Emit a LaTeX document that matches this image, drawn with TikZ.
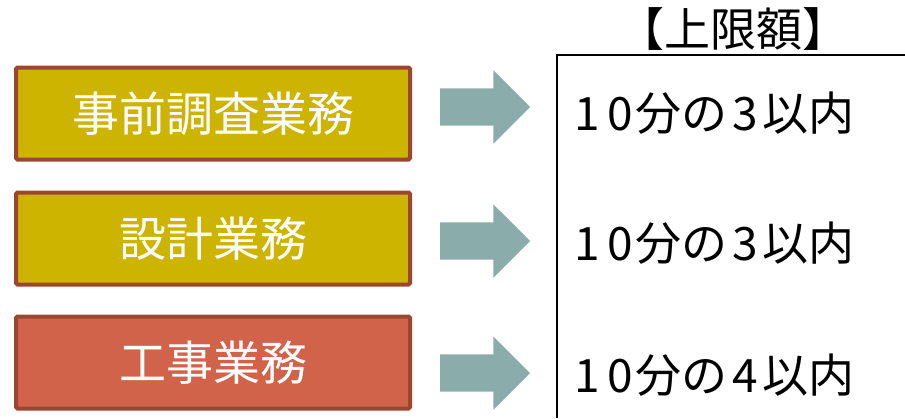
\documentclass[tikz,border=0pt]{standalone}
\usepackage{fontspec}
\setmainfont{Noto Sans CJK JP}
\usetikzlibrary{shapes.arrows}
\definecolor{boxline}{HTML}{9C4632}
\definecolor{olive}{HTML}{CCB400}
\definecolor{brick}{HTML}{D1634A}
\definecolor{arrowc}{HTML}{8AACAA}
\tikzset{
  taskbox/.style={draw=boxline, line width=4pt, rounded corners=1.5pt, minimum width=394pt, minimum height=92pt, inner sep=0pt, text=white, font=\fontsize{47}{50}\selectfont},
  blockarrow/.style={single arrow, fill=arrowc, draw=none, minimum height=90pt, minimum width=73pt, single arrow head extend=18pt, single arrow tip angle=90, inner sep=0pt, outer sep=0pt, anchor=tail},
  limit/.style={anchor=west, inner sep=0pt, text=black, font=\fontsize{46}{48}\selectfont}
}
\newcommand{\ratio}[1]{1\hspace{8pt}0\hspace{2pt}分の\hspace{5pt}#1\hspace{5pt}以内}
\begin{document}
\begin{tikzpicture}[x=1pt,y=-1pt]
\useasboundingbox (0,0) rectangle (905,418);
\node[taskbox, fill=olive] (b1) at (213,113.5) {事前調査業務};
\node[taskbox, fill=olive] (b2) at (213,238.5) {設計業務};
\node[taskbox, fill=brick] (b3) at (213,362.5) {工事業務};
\node[blockarrow] (a1) at (440,107) {\rule{0pt}{37pt}};
\node[blockarrow] (a2) at (440,241) {\rule{0pt}{37pt}};
\node[blockarrow] (a3) at (440,373) {\rule{0pt}{37pt}};
\coordinate (fb) at (557,418);
\coordinate (fc) at (557,55);
\coordinate (fr) at (905,55);
\draw[line width=2pt] (fb) -- (fc) -- (fr);
\node[font=\fontsize{46}{48}\selectfont, inner sep=0pt] (title) at (733,29) {【上限額】};
\node[limit] (t1) at (574,113) {\ratio{3}};
\node[limit] (t2) at (574,243) {\ratio{3}};
\node[limit] (t3) at (574,375) {\ratio{4}};
\end{tikzpicture}
\end{document}
